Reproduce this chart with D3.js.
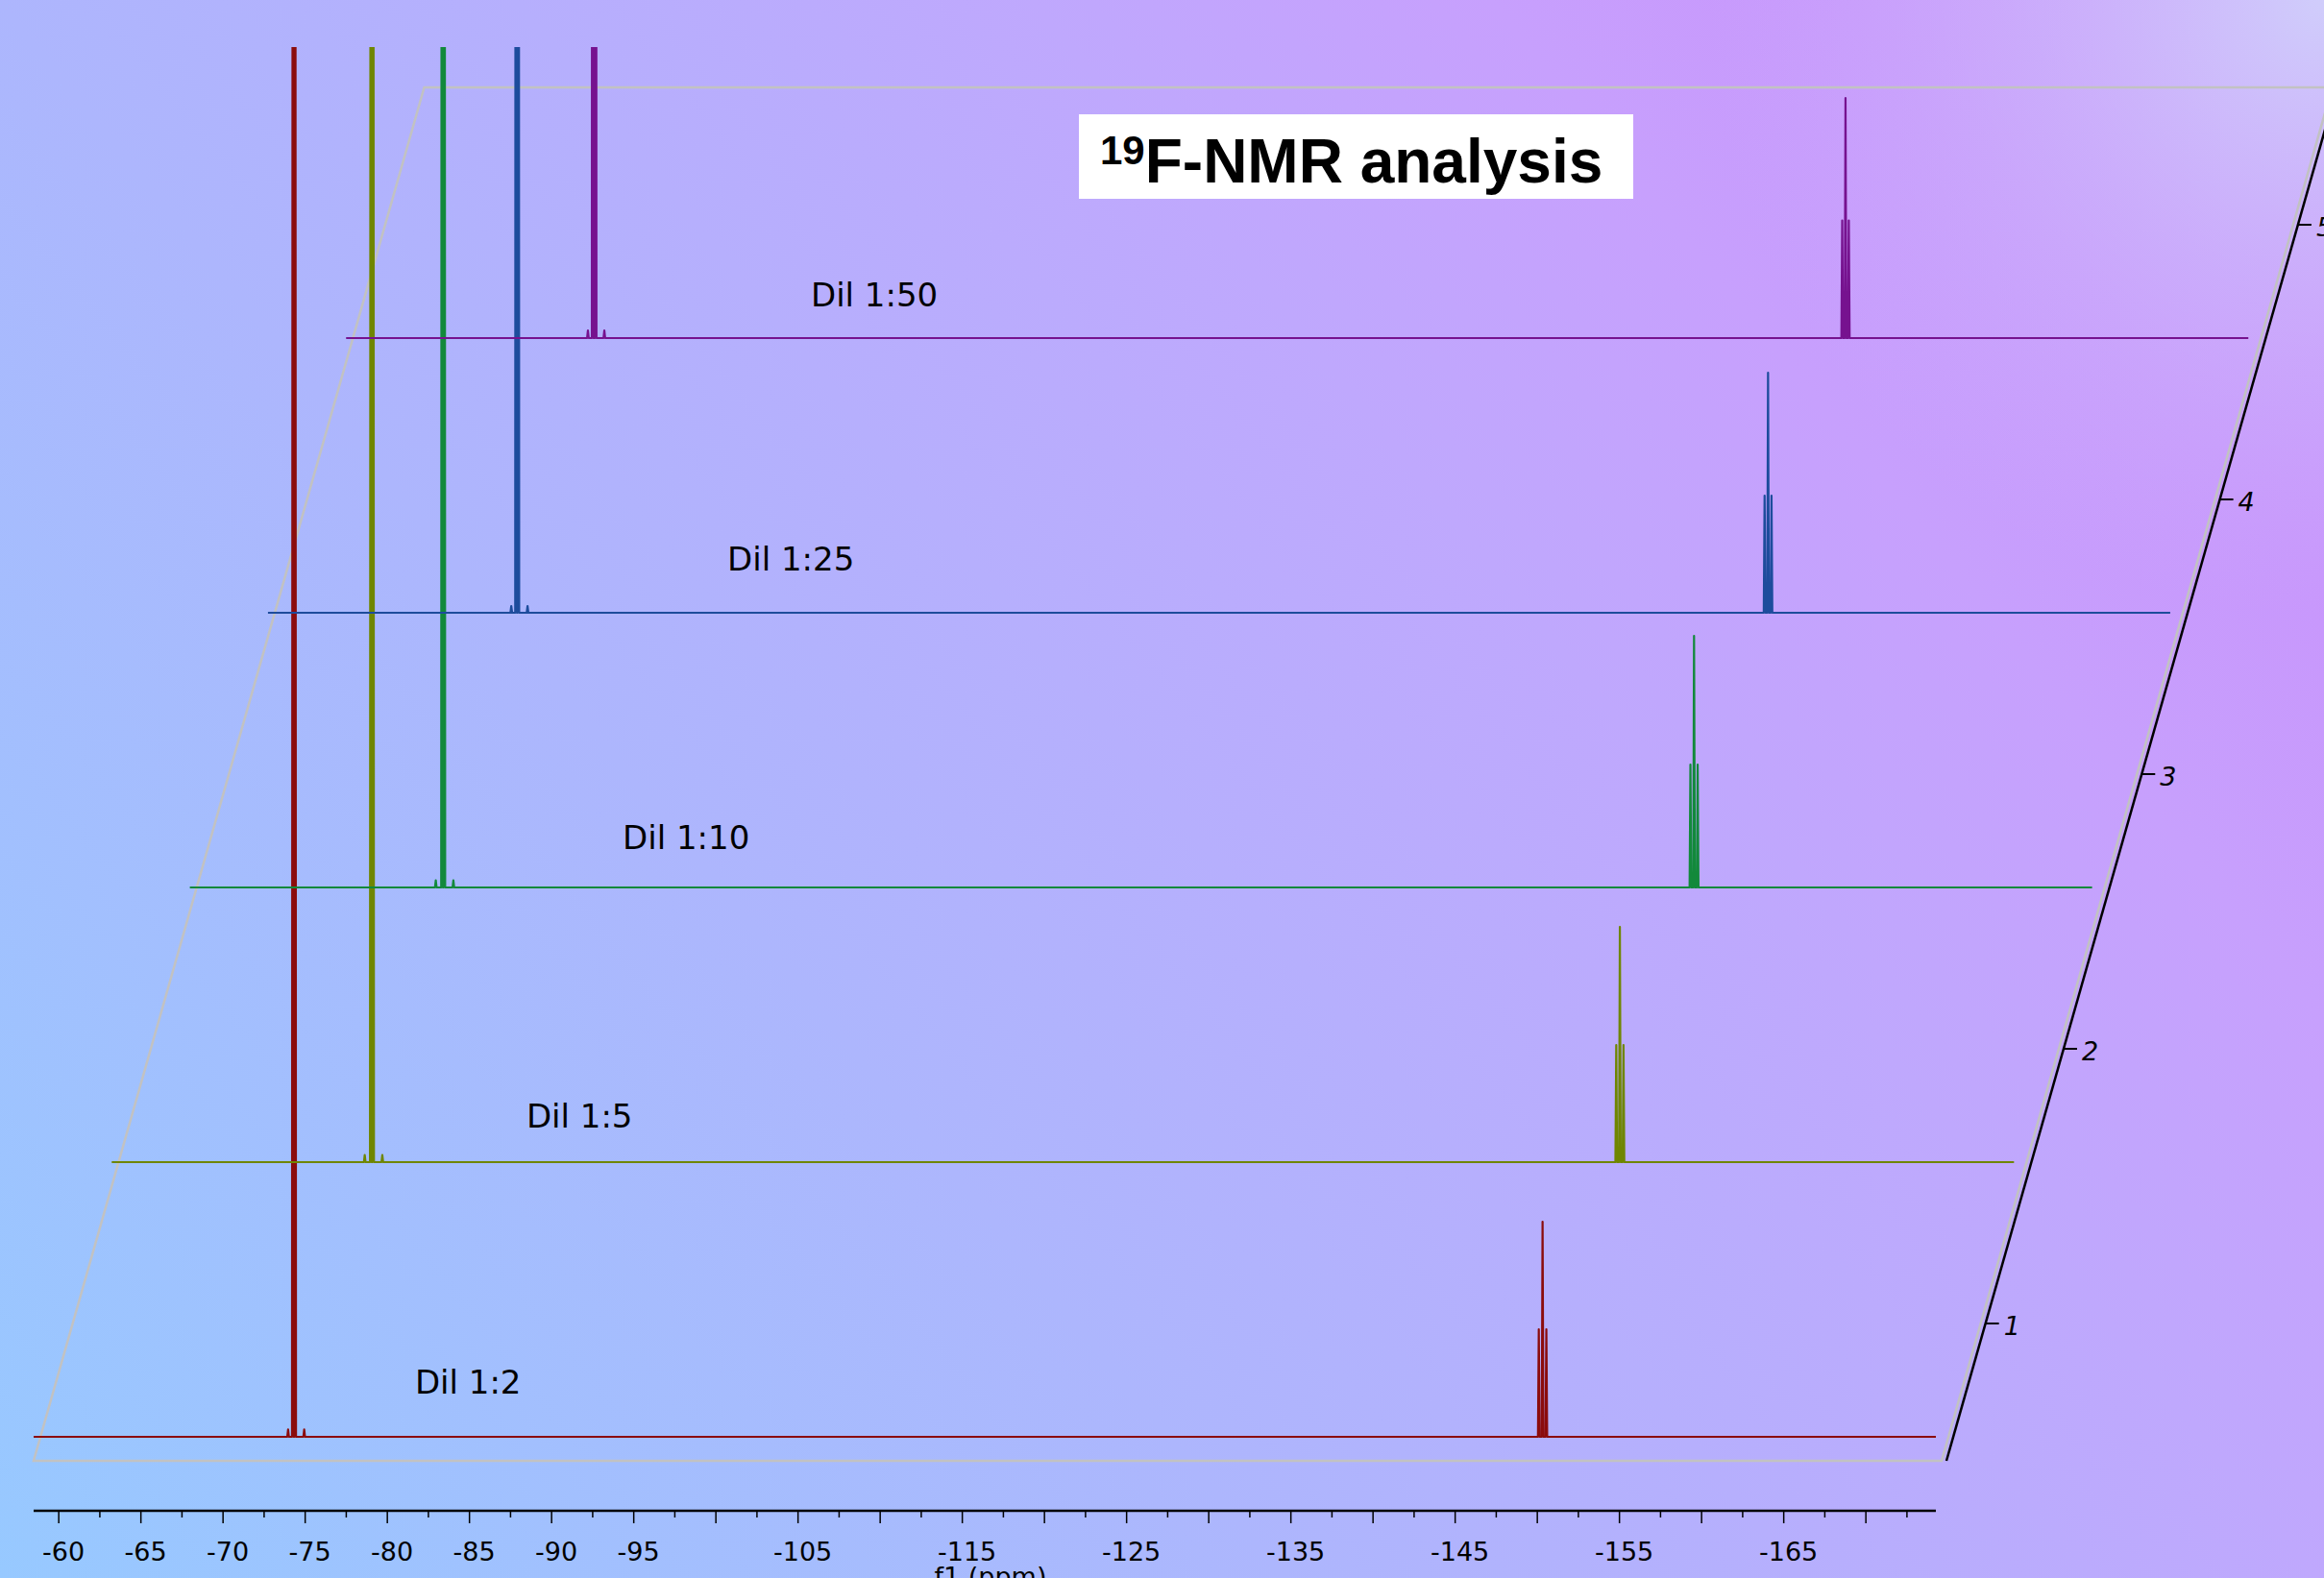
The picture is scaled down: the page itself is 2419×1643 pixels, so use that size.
<!DOCTYPE html>
<html>
<head>
<meta charset="utf-8">
<script src="https://cdn.jsdelivr.net/npm/d3@7"></script>
<style>
	html, body { margin: 0; padding: 0; overflow: hidden; }
	svg { display: block; }
</style>
</head>
<body>
<script>
// trace names, front (1:2) to back (1:50)
var seriesNames = ["Dil 1:2", "Dil 1:5", "Dil 1:10", "Dil 1:25", "Dil 1:50"];

// big signal near -74 ppm (clipped at the top), read per trace
var mainPpm = [-74.32, -74.31, -73.89, -73.64, -73.57];
var mainHeight = [1000, 1000, 1000, 1000, 1000];
var mainSplit = [0.14, 0.14, 0.14, 0.14, 0.18];

// 13C satellites around the big signal
var satLeftPpm = [-73.96, -73.87, -73.44, -73.28, -73.19];
var satRightPpm = [-74.94, -74.94, -74.51, -74.27, -74.19];
var satHeight = [3.1, 3.0, 3.0, 2.8, 3.2];

// triplet near -150 ppm
var tripletPpm = [-150.32, -150.27, -150.03, -149.78, -149.74];
var tripletSplit = [0.23, 0.22, 0.22, 0.21, 0.2];
var tripletCenterHeight = [89.6, 98, 104.8, 100, 100];
var tripletSideHeight = [44.8, 48.8, 51.2, 48.8, 49];

// axis ticks
var majorTicks = d3.range(-60, -171, -5);
var minorTicks = d3.range(-62.5, -174, -5);
var tickLabels = [-60, -65, -70, -75, -80, -85, -90, -95, -105, -115, -125, -135, -145, -155, -165];
var depthTicks = [1, 2, 3, 4, 5];

var NmrStack = (function() {
	"use strict";

	var width = 2419,
		height = 1643,
		colors = ["#8b0c0c", "#6f8600", "#12893b", "#1d4c9c", "#76128f"],
		labelAt = [
			{ ppm: -81.68, lift: 45 },
			{ ppm: -83.71, lift: 36 },
			{ ppm: -84.81, lift: 40 },
			{ ppm: -86.43, lift: 44 },
			{ ppm: -86.76, lift: 33 }
		],
		slope = 0.2843,
		floorLift = 25,
		halfWidth = 0.05,
		svg,
		xScale,
		yScale,
		depthY;

	function create() {
		svg = d3.select("body").append("svg")
			.attr("width", width)
			.attr("height", height);

		xScale = d3.scaleLinear().domain([-58.47, -174.26]).range([35, 2015]);
		yScale = d3.scaleLinear().domain([0, 100]).range([0, 250]);
		depthY = d3.scaleLinear().domain([0.5, 5.5]).range([1521, 91]);

		drawBackground();
		drawFloor();
		drawTraces();
		drawAxis();
		drawDepthAxis();
		drawTitle();
	}

	function depthShift(v) {
		return (depthY.range()[0] - depthY(v)) * slope;
	}

	function drawBackground() {
		var defs = svg.append("defs");

		var lin = defs.append("linearGradient")
			.attr("id", "bg")
			.attr("gradientUnits", "userSpaceOnUse")
			.attr("x1", 0).attr("y1", height)
			.attr("x2", 2255).attr("y2", -195);
		[[0, "#97c9ff"], [0.356, "#adb6fd"], [0.643, "#bfa8fd"], [0.77, "#c7a0fd"], [0.87, "#c897fc"], [1, "#ca93fc"]]
			.forEach(function(s) {
				lin.append("stop").attr("offset", s[0]).attr("stop-color", s[1]);
			});

		// lighter corner at the top right
		var glow = defs.append("radialGradient")
			.attr("id", "glow")
			.attr("gradientUnits", "userSpaceOnUse")
			.attr("cx", width).attr("cy", 0).attr("r", 640);
		glow.append("stop").attr("offset", 0).attr("stop-color", "#d0cdfb").attr("stop-opacity", 1);
		glow.append("stop").attr("offset", 0.45).attr("stop-color", "#cdc0fb").attr("stop-opacity", 0.55);
		glow.append("stop").attr("offset", 1).attr("stop-color", "#cbb4fc").attr("stop-opacity", 0);

		defs.append("clipPath").attr("id", "plotClip")
			.append("rect")
			.attr("x", 0).attr("y", 49)
			.attr("width", width).attr("height", height - 49);

		svg.append("rect").attr("width", width).attr("height", height).attr("fill", "url(#bg)");
		svg.append("rect").attr("width", width).attr("height", height).attr("fill", "url(#glow)");
	}

	function drawFloor() {
		var x0 = xScale.range()[0],
			x1 = xScale.range()[1] + 6,
			yb = depthY(0.5),
			yt = depthY(5.5),
			dx = depthShift(5.5);

		svg.append("path")
			.attr("d", "M" + x0 + "," + yb + "L" + x1 + "," + yb + "L" + (x1 + dx) + "," + yt +
				"L" + (x0 + dx) + "," + yt + "Z")
			.attr("fill", "none")
			.attr("stroke", "#c2c2c2")
			.attr("stroke-width", 2.5);
	}

	function tracePoints(i) {
		var peaks = [
			{ ppm: mainPpm[i] + mainSplit[i] / 2, h: mainHeight[i] },
			{ ppm: mainPpm[i] - mainSplit[i] / 2, h: mainHeight[i] },
			{ ppm: satLeftPpm[i], h: satHeight[i] },
			{ ppm: satRightPpm[i], h: satHeight[i] },
			{ ppm: tripletPpm[i] + tripletSplit[i], h: tripletSideHeight[i] },
			{ ppm: tripletPpm[i], h: tripletCenterHeight[i] },
			{ ppm: tripletPpm[i] - tripletSplit[i], h: tripletSideHeight[i] }
		].sort(function(a, b) { return b.ppm - a.ppm; });

		var pts = [[xScale.domain()[0], 0]];
		peaks.forEach(function(p) {
			pts.push([p.ppm + halfWidth, 0], [p.ppm, p.h], [p.ppm - halfWidth, 0]);
		});
		pts.push([xScale.domain()[1], 0]);
		return pts;
	}

	function drawTraces() {
		var g = svg.append("g").attr("clip-path", "url(#plotClip)");

		seriesNames.forEach(function(name, i) {
			var v = i + 0.5,
				shift = depthShift(v),
				base = depthY(v) - floorLift;

			var line = d3.line()
				.x(function(d) { return xScale(d[0]) + shift; })
				.y(function(d) { return base - yScale(d[1]); });

			g.append("path")
				.datum(tracePoints(i))
				.attr("d", line)
				.attr("fill", "none")
				.attr("stroke", colors[i])
				.attr("stroke-width", 2.2)
				.attr("stroke-linejoin", "round");

			svg.append("text")
				.attr("x", xScale(labelAt[i].ppm) + shift)
				.attr("y", base - labelAt[i].lift)
				.attr("font-family", "DejaVu Sans, Verdana, sans-serif")
				.attr("font-size", 34)
				.attr("fill", "#000")
				.text(name);
		});
	}

	function drawAxis() {
		var y0 = 1573;
		var g = svg.append("g").attr("transform", "translate(0," + y0 + ")");

		g.append("line")
			.attr("x1", xScale.range()[0]).attr("x2", xScale.range()[1])
			.attr("stroke", "#000").attr("stroke-width", 2.5);

		g.selectAll("line.major").data(majorTicks).enter().append("line")
			.attr("class", "major")
			.attr("x1", function(d) { return xScale(d); })
			.attr("x2", function(d) { return xScale(d); })
			.attr("y1", 0).attr("y2", 13)
			.attr("stroke", "#000").attr("stroke-width", 1.5);

		g.selectAll("line.minor").data(minorTicks).enter().append("line")
			.attr("class", "minor")
			.attr("x1", function(d) { return xScale(d); })
			.attr("x2", function(d) { return xScale(d); })
			.attr("y1", 0).attr("y2", 7)
			.attr("stroke", "#000").attr("stroke-width", 1.5);

		g.selectAll("text.tick").data(tickLabels).enter().append("text")
			.attr("class", "tick")
			.attr("x", function(d) { return xScale(d) + 5; })
			.attr("y", 52)
			.attr("text-anchor", "middle")
			.attr("font-family", "DejaVu Sans, Verdana, sans-serif")
			.attr("font-size", 27)
			.text(function(d) { return String(d); });

		g.append("text")
			.attr("x", (xScale.range()[0] + xScale.range()[1]) / 2 + 6)
			.attr("y", 78)
			.attr("text-anchor", "middle")
			.attr("font-family", "DejaVu Sans, Verdana, sans-serif")
			.attr("font-size", 27)
			.text("f1 (ppm)");
	}

	function drawDepthAxis() {
		var ax = xScale.range()[1] + 11;

		function axisX(v) { return ax + depthShift(v); }

		svg.append("line")
			.attr("x1", axisX(0.5)).attr("y1", depthY(0.5))
			.attr("x2", axisX(6)).attr("y2", depthY(6))
			.attr("stroke", "#000").attr("stroke-width", 2.5);

		var t = svg.selectAll("g.dtick").data(depthTicks).enter().append("g")
			.attr("class", "dtick");

		t.append("line")
			.attr("x1", function(d) { return axisX(d); })
			.attr("x2", function(d) { return axisX(d) + 14; })
			.attr("y1", function(d) { return depthY(d); })
			.attr("y2", function(d) { return depthY(d); })
			.attr("stroke", "#000").attr("stroke-width", 2);

		t.append("text")
			.attr("x", function(d) { return axisX(d) + 19; })
			.attr("y", function(d) { return depthY(d) + 12; })
			.attr("font-family", "DejaVu Sans, Verdana, sans-serif")
			.attr("font-style", "italic")
			.attr("font-size", 27)
			.text(function(d) { return d; });
	}

	function drawTitle() {
		svg.append("rect")
			.attr("x", 1123).attr("y", 119)
			.attr("width", 577).attr("height", 88)
			.attr("fill", "#fff");

		var txt = svg.append("text")
			.attr("x", 1145).attr("y", 190)
			.attr("font-family", "Liberation Sans, Arial, sans-serif")
			.attr("font-weight", "bold")
			.attr("fill", "#000");
		txt.append("tspan").attr("font-size", 42).attr("dy", -19).text("19");
		txt.append("tspan").attr("font-size", 64).attr("dy", 19).text("F-NMR analysis");
	}

	return {
		create : create
	};
})();

NmrStack.create();
</script>
</body>
</html>
